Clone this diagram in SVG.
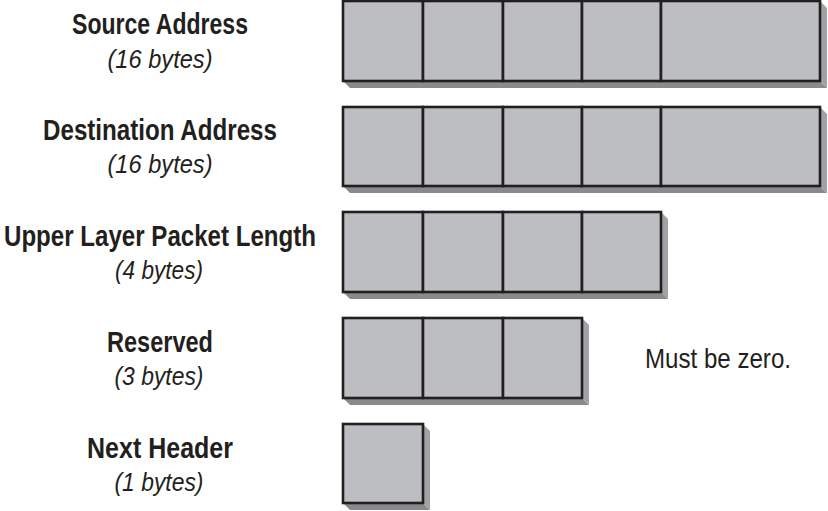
<svg xmlns="http://www.w3.org/2000/svg" width="828" height="511" viewBox="0 0 828 511">
<style>
.cell{fill:#bdbec2;stroke:#231f20;stroke-width:2.6}
.sb{fill:#8a8a8c}
.sr{fill:#a2a2a5}
.t{font-family:"Liberation Sans",Arial,sans-serif;font-weight:bold;font-size:29px;fill:#231f20;text-anchor:middle}
.s{font-family:"Liberation Sans",Arial,sans-serif;font-style:italic;font-size:26px;fill:#231f20;text-anchor:middle}
.n{font-family:"Liberation Sans",Arial,sans-serif;font-size:28px;fill:#231f20}
</style>
<rect width="828" height="511" fill="#ffffff"/>

<g id="source-address">
<polygon class="sb" points="343,81 820,81 827,88 350,88"/>
<polygon class="sr" points="820,1 827,8 827,88 820,81"/>
<rect class="cell" x="343" y="1" width="80" height="80"/>
<rect class="cell" x="423" y="1" width="80" height="80"/>
<rect class="cell" x="503" y="1" width="79" height="80"/>
<rect class="cell" x="582" y="1" width="79" height="80"/>
<rect class="cell" x="661" y="1" width="159" height="80"/>
<text class="t" x="160" y="34" textLength="176" lengthAdjust="spacingAndGlyphs">Source Address</text>
<text class="s" x="160" y="68" textLength="105" lengthAdjust="spacingAndGlyphs">(16 bytes)</text>
</g>

<g id="destination-address">
<polygon class="sb" points="343,186 820,186 827,193 350,193"/>
<polygon class="sr" points="820,107 827,114 827,193 820,186"/>
<rect class="cell" x="343" y="107" width="80" height="79"/>
<rect class="cell" x="423" y="107" width="80" height="79"/>
<rect class="cell" x="503" y="107" width="79" height="79"/>
<rect class="cell" x="582" y="107" width="79" height="79"/>
<rect class="cell" x="661" y="107" width="159" height="79"/>
<text class="t" x="160" y="140" textLength="234" lengthAdjust="spacingAndGlyphs">Destination Address</text>
<text class="s" x="160" y="173" textLength="105" lengthAdjust="spacingAndGlyphs">(16 bytes)</text>
</g>

<g id="upper-layer-packet-length">
<polygon class="sb" points="343,292 661,292 668,299 350,299"/>
<polygon class="sr" points="661,212 668,219 668,299 661,292"/>
<rect class="cell" x="343" y="212" width="80" height="80"/>
<rect class="cell" x="423" y="212" width="80" height="80"/>
<rect class="cell" x="503" y="212" width="79" height="80"/>
<rect class="cell" x="582" y="212" width="79" height="80"/>
<text class="t" x="160" y="246" textLength="312" lengthAdjust="spacingAndGlyphs">Upper Layer Packet Length</text>
<text class="s" x="159" y="279" textLength="88" lengthAdjust="spacingAndGlyphs">(4 bytes)</text>
</g>

<g id="reserved">
<polygon class="sb" points="343,398 582,398 589,405 350,405"/>
<polygon class="sr" points="582,318 589,325 589,405 582,398"/>
<rect class="cell" x="343" y="318" width="80" height="80"/>
<rect class="cell" x="423" y="318" width="80" height="80"/>
<rect class="cell" x="503" y="318" width="79" height="80"/>
<text class="t" x="160" y="352" textLength="106" lengthAdjust="spacingAndGlyphs">Reserved</text>
<text class="s" x="159" y="385" textLength="89" lengthAdjust="spacingAndGlyphs">(3 bytes)</text>
<text class="n" x="645" y="368" textLength="146" lengthAdjust="spacingAndGlyphs">Must be zero.</text>
</g>

<g id="next-header">
<polygon class="sb" points="343,503 423,503 430,510 350,510"/>
<polygon class="sr" points="423,424 430,431 430,510 423,503"/>
<rect class="cell" x="343" y="424" width="80" height="79"/>
<text class="t" x="160" y="458" textLength="146" lengthAdjust="spacingAndGlyphs">Next Header</text>
<text class="s" x="159" y="491" textLength="89" lengthAdjust="spacingAndGlyphs">(1 bytes)</text>
</g>
</svg>
